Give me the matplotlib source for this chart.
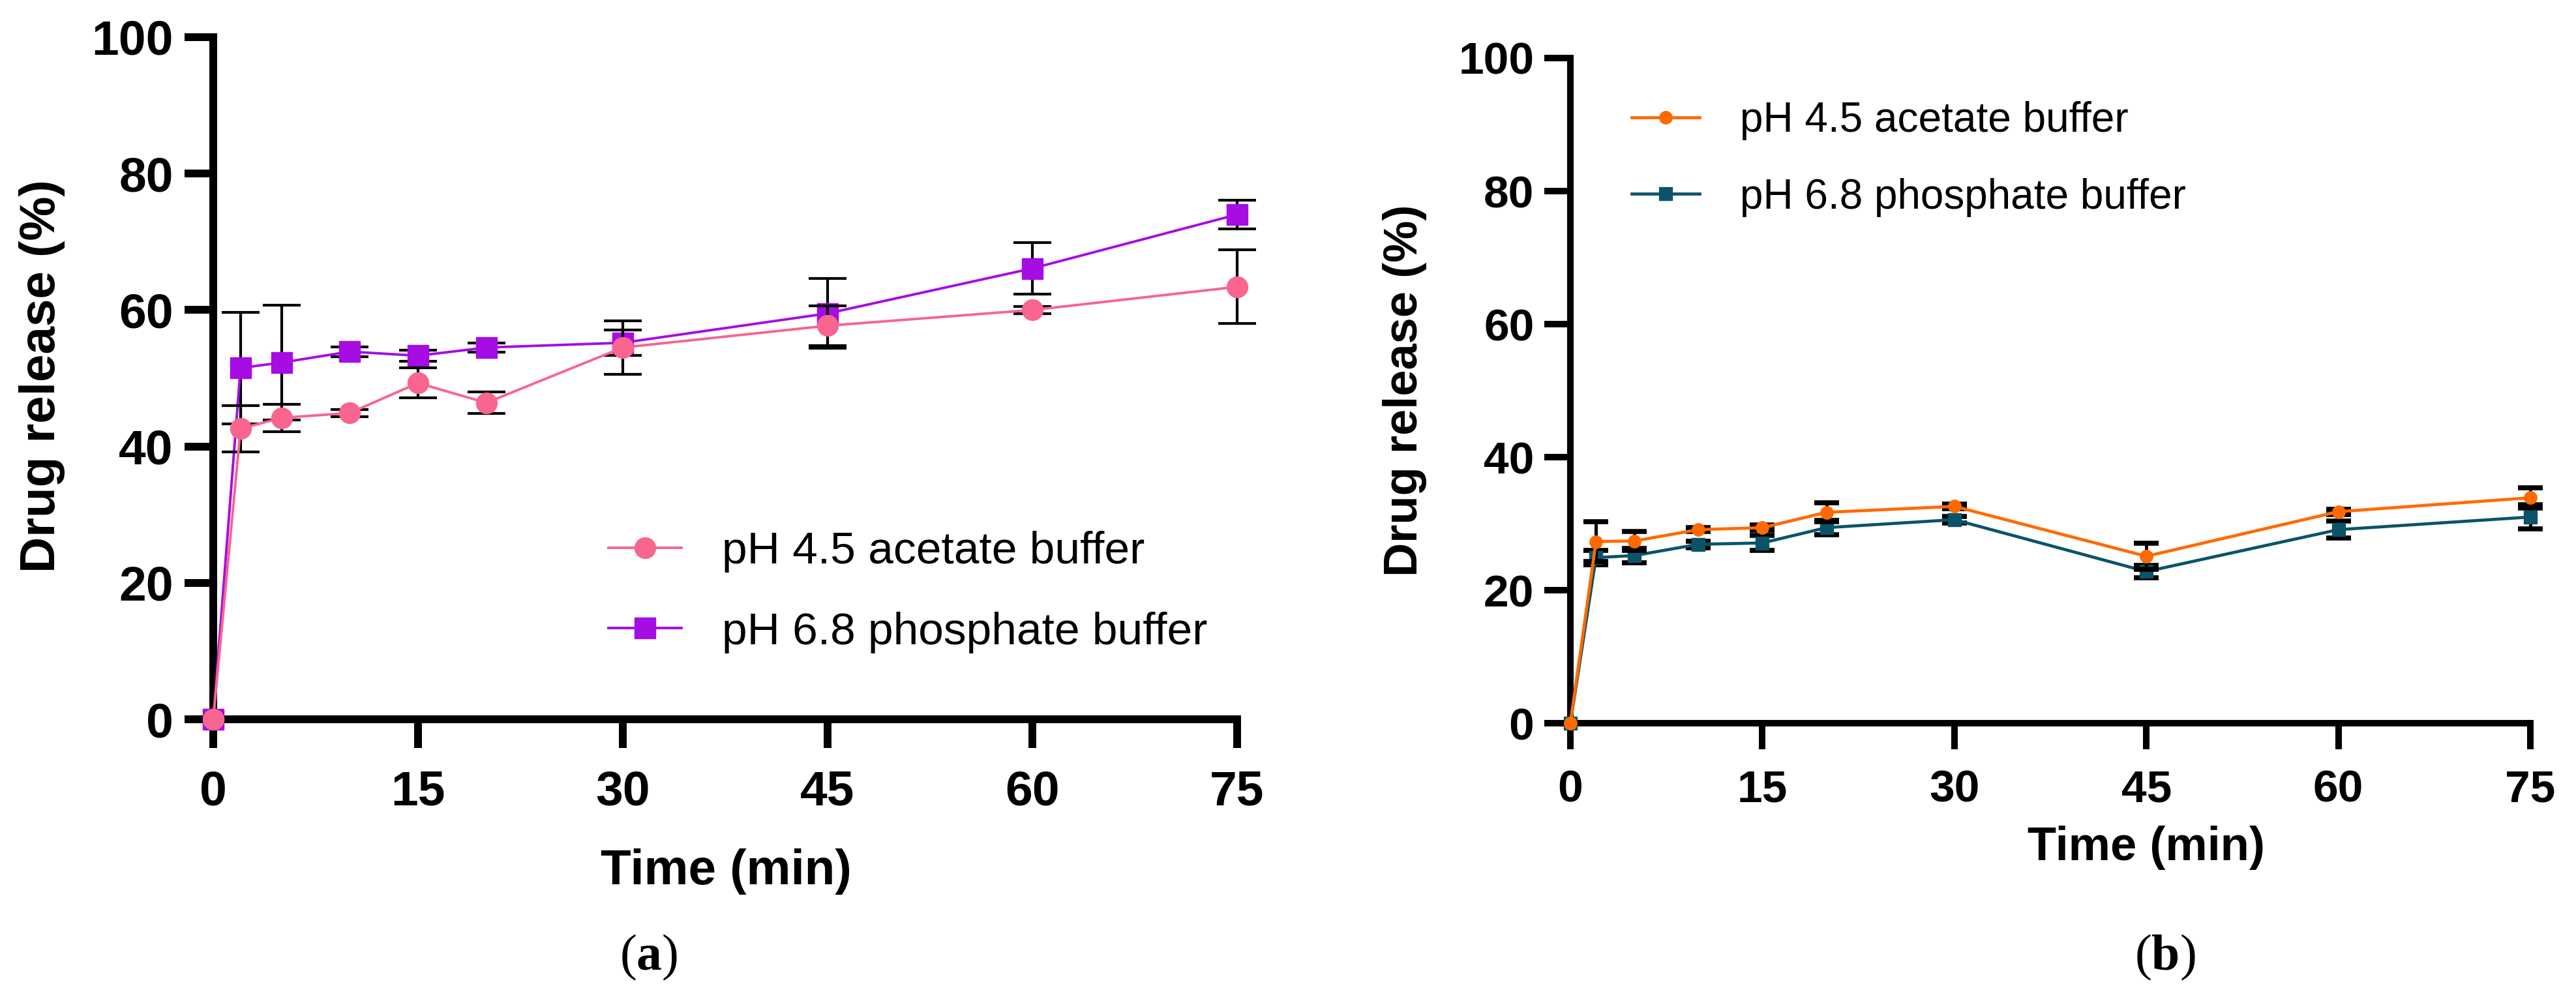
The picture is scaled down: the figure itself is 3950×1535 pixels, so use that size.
import matplotlib
matplotlib.use("Agg")
import matplotlib.pyplot as plt

plt.rcParams['font.family'] = ['Liberation Sans', 'DejaVu Sans']
plt.rcParams['mathtext.fontset'] = 'custom'
plt.rcParams['mathtext.bf'] = 'Liberation Serif:bold'
plt.rcParams['mathtext.rm'] = 'Liberation Serif'

# ---------------- data ----------------
time_min = [0, 2, 5, 10, 15, 20, 30, 45, 60, 75]
time_ticks = [0, 15, 30, 45, 60, 75]
release_ticks = [0, 20, 40, 60, 80, 100]

# panel (a)
a_acetate = [0, 42.6, 44.2, 44.9, 49.3, 46.4, 54.5, 57.7, 60.0, 63.4]
a_acetate_sd = [0, 3.4, 2.0, 0.5, 2.2, 1.6, 3.9, 2.9, 0.5, 5.4]
a_phosphate = [0, 51.5, 52.3, 53.9, 53.3, 54.5, 55.2, 59.5, 66.1, 74.0]
a_phosphate_sd = [0, 8.2, 8.4, 0.7, 0.8, 0.7, 1.9, 5.1, 3.8, 2.1]

# panel (b)
b_acetate = [0, 27.3, 27.4, 29.1, 29.4, 31.7, 32.6, 25.1, 31.8, 33.9]
b_acetate_sd = [0, 3.0, 1.4, 0.3, 0.4, 1.4, 0.3, 2.0, 0.4, 1.5]
b_phosphate = [0, 24.9, 25.2, 26.9, 27.1, 29.4, 30.6, 22.8, 29.1, 31.0]
b_phosphate_sd = [0, 1.1, 1.1, 0.5, 1.1, 1.1, 0.5, 0.9, 1.3, 1.8]

label_acetate = "pH 4.5 acetate buffer"
label_phosphate = "pH 6.8 phosphate buffer"
xlabel = "Time (min)"
ylabel = "Drug release (%)"

# ---------------- figure ----------------
fig = plt.figure(figsize=(39.5, 15.35), dpi=100)
axA = fig.add_axes([0.08278, 0.28143, 0.39747, 0.68144])
axB = fig.add_axes([0.60962, 0.27752, 0.37266, 0.66450])


def series(ax, y, err, color, marker, ms, lw, label, elw, cap, capth, z):
    ax.errorbar(time_min, y, yerr=err, fmt='none', ecolor='black',
                elinewidth=elw, capsize=cap, capthick=capth, zorder=z,
                clip_on=False)
    ln, = ax.plot(time_min, y, color=color, lw=lw, marker=marker, ms=ms,
                  mfc=color, mec=color, label=label, zorder=z + 0.5,
                  clip_on=False)
    return ln


def style(ax, spw, tlen, xpad, ypad, tfs):
    ax.set_xlim(0, 75)
    ax.set_ylim(0, 100)
    ax.set_xticks(time_ticks)
    ax.set_yticks(release_ticks)
    for s in ['top', 'right']:
        ax.spines[s].set_visible(False)
    for s in ['left', 'bottom']:
        ax.spines[s].set_linewidth(spw)
        ax.spines[s].set_capstyle('projecting')
    ax.tick_params(axis='both', direction='out', length=tlen, width=spw,
                   labelsize=tfs)
    ax.tick_params(axis='x', pad=xpad)
    ax.tick_params(axis='y', pad=ypad)
    for t in ax.get_xticklabels() + ax.get_yticklabels():
        t.set_fontweight('bold')


# ----- panel (a) -----
pA_phos = series(axA, a_phosphate, a_phosphate_sd, '#A50DE2', 's', 23, 2.8,
                 label_phosphate, 3.0, 21, 3.0, 3)
pA_ace = series(axA, a_acetate, a_acetate_sd, '#F8658F', 'o', 23, 2.8,
                label_acetate, 3.0, 21, 3.0, 5)
style(axA, 8.6, 32, 24, 12, 54)
axA.set_xlabel(xlabel, fontsize=55, fontweight='bold', va='center')
axA.xaxis.set_label_coords(0.5006, -0.2228)
axA.set_ylabel(ylabel, fontsize=55, fontweight='bold', va='center')
axA.yaxis.set_label_coords(-0.1669, 0.503)
axA.legend(handles=[pA_ace, pA_phos], loc='center left',
           bbox_to_anchor=(933 / 3950, 1 - 908 / 1535),
           bbox_transform=fig.transFigure, frameon=False, fontsize=50,
           borderpad=0, borderaxespad=0, handlelength=1.61,
           handletextpad=0.89, labelspacing=0.85, numpoints=1)

# ----- panel (b) -----
pB_phos = series(axB, b_phosphate, b_phosphate_sd, '#0B5468', 's', 14, 3.4,
                 label_phosphate, 3.6, 14, 5.5, 3)
pB_ace = series(axB, b_acetate, b_acetate_sd, '#FF6A00', 'o', 14, 3.4,
                label_acetate, 3.6, 14, 5.5, 5)
style(axB, 7.2, 29, 22, 11, 50)
axB.set_xlabel(xlabel, fontsize=52, fontweight='bold', va='center')
axB.xaxis.set_label_coords(0.60, -0.187)
axB.set_ylabel(ylabel, fontsize=52, fontweight='bold', va='center')
axB.yaxis.set_label_coords(-0.1726, 0.5)
axB.legend(handles=[pB_ace, pB_phos], loc='center left',
           bbox_to_anchor=(2502 / 3950, 1 - 244 / 1535),
           bbox_transform=fig.transFigure, frameon=False, fontsize=46,
           borderpad=0, borderaxespad=0, handlelength=1.63,
           handletextpad=0.97, labelspacing=0.9, numpoints=1)

# ----- captions -----
fig.text(995 / 3950, 1 - 1468 / 1535, r"($\mathbf{a}$)", fontsize=56,
         family='Liberation Serif', ha='center', va='center')
fig.text(3320 / 3950, 1 - 1468 / 1535, r"($\mathbf{b}$)", fontsize=56,
         family='Liberation Serif', ha='center', va='center')

fig.savefig("out.png", dpi=100, facecolor='white')
